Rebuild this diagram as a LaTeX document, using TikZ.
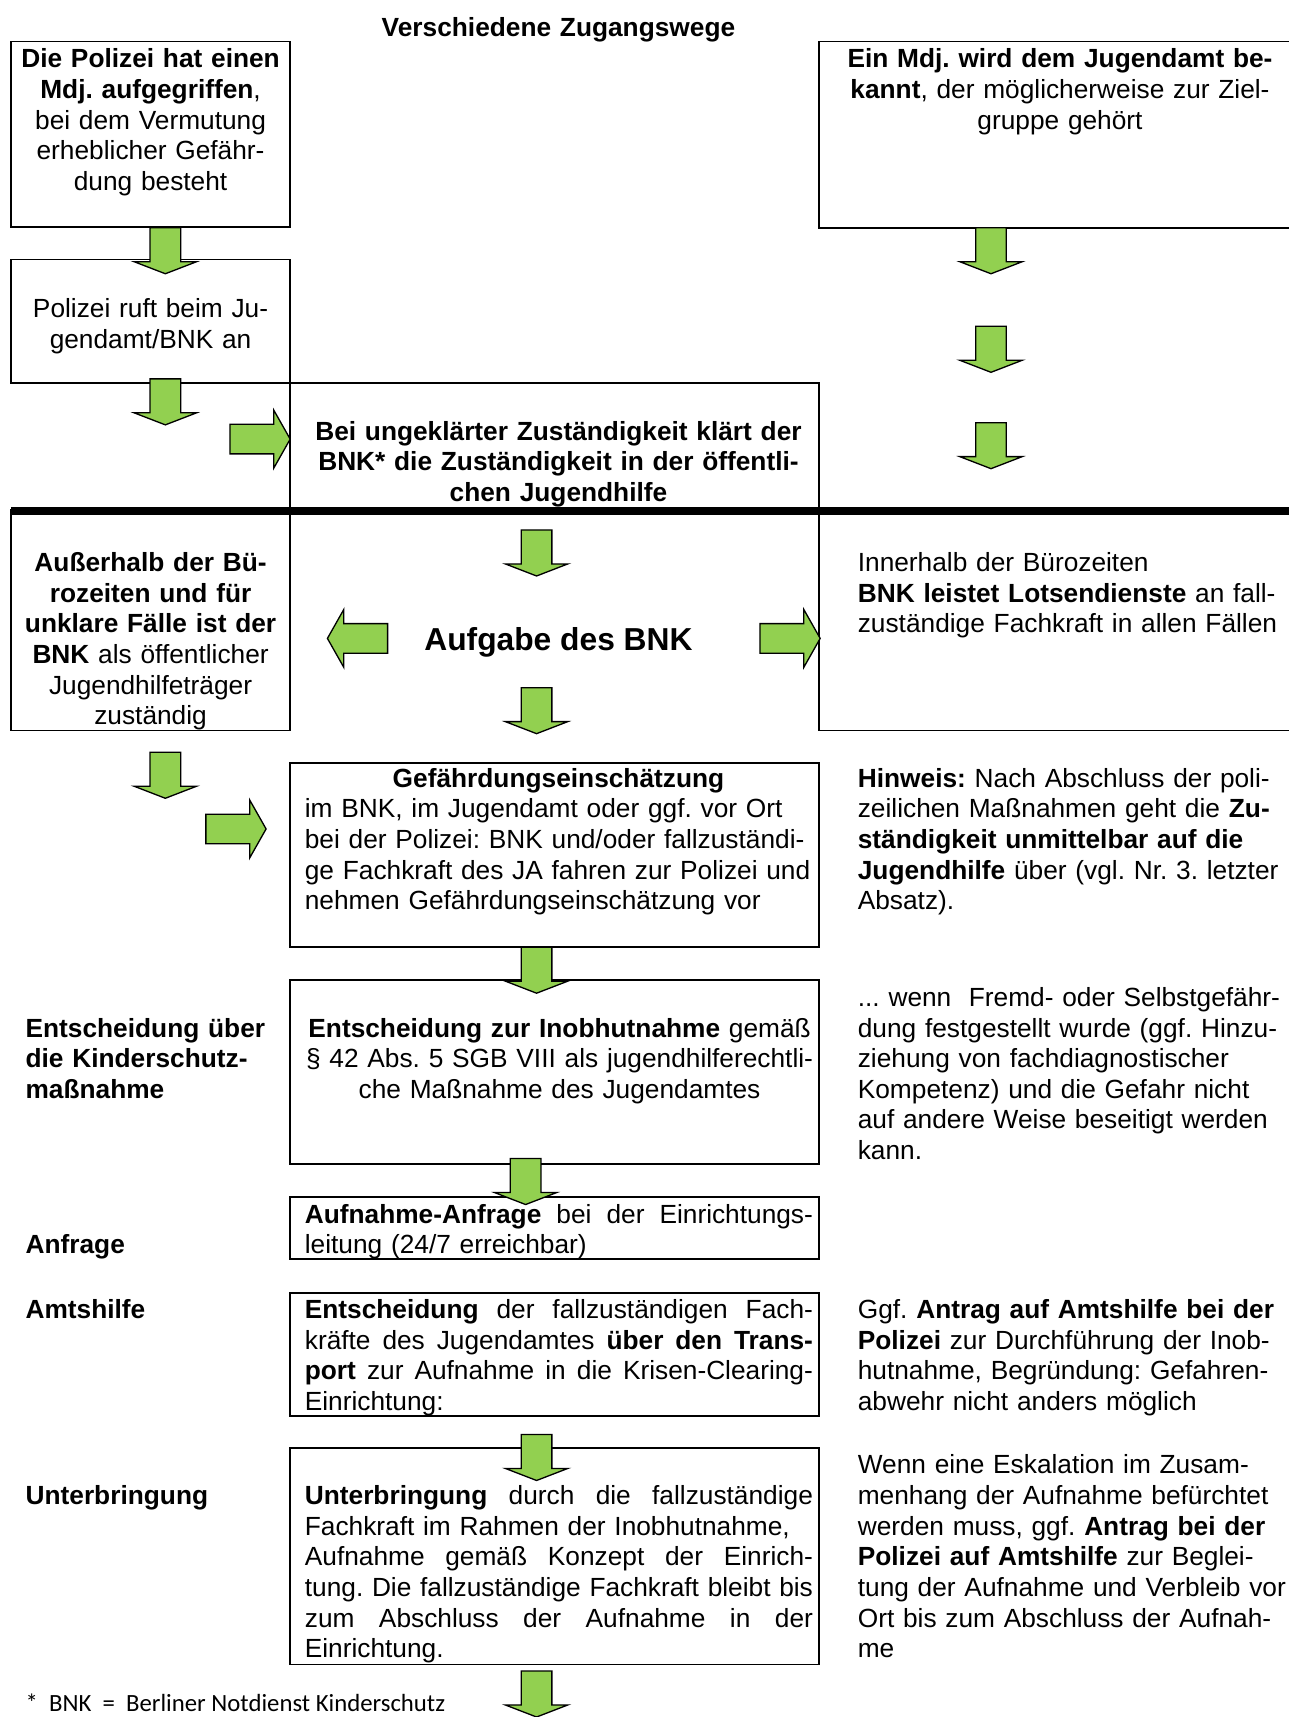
\documentclass[tikz,border=0pt]{standalone}
\usepackage{fontspec}
\setmainfont{Liberation Sans}
\newfontfamily\notefont{Carlito}
\usetikzlibrary{fit}
\definecolor{arrowgreen}{HTML}{92D050}
\frenchspacing
\tikzset{
  boxnode/.style={inner sep=0pt, draw=black, line width=0.8pt},
  boxline/.style={draw=black, line width=0.8pt},
  txt/.style={inner sep=0pt, font=\fontsize{12}{14}\selectfont\frenchspacing},
  ctxt/.style={txt, anchor=base, align=center, text width=#1},
  ltxt/.style={txt, anchor=base west, align=left, text width=#1},
  blockarrow/.style={draw=black, fill=arrowgreen, line width=0.6pt, line join=miter},
  downarrow/.pic={\draw[blockarrow] (-14,0) -- (14,0) -- (14,31) -- (28.5,31) -- (0,42) -- (-28.5,31) -- (-14,31) -- cycle;},
  rightarrow/.pic={\draw[blockarrow] (0,-13.5) -- (40,-13.5) -- (40,-26.5) -- (55,0) -- (40,26.5) -- (40,13.5) -- (0,13.5) -- cycle;},
  leftarrow/.pic={\draw[blockarrow] (0,0) -- (15,-26.5) -- (15,-13.5) -- (55,-13.5) -- (55,13.5) -- (15,13.5) -- (15,26.5) -- cycle;}
}
\newcommand{\jline}[1]{\makebox[232pt][s]{\spaceskip=0pt\xspaceskip=0pt\relax#1}}
\begin{document}
\begin{tikzpicture}[x=0.5pt,y=-0.5pt]
\useasboundingbox (0,0) rectangle (1177,1568);

% title
\node[ctxt=200pt] (title) at (510,33) {\textbf{Verschiedene Zugangswege}};

% boxes
\node[boxnode, fit={(10,38) (265,207)}] (boxA) {};
\node[boxnode, fit={(10,237) (265,350)}] (boxB) {};
\node[boxnode, fit={(265,350) (748,466)}] (boxD) {};
\node[boxnode, fit={(10,466) (265,667)}] (boxE) {};
\node[boxnode, fit={(265,697) (748,865)}] (boxG) {};
\node[boxnode, fit={(265,895) (748,1063)}] (boxH) {};
\node[boxnode, fit={(265,1093) (748,1150)}] (boxI) {};
\node[boxnode, fit={(265,1181) (748,1293)}] (boxJ) {};
\node[boxnode, fit={(265,1322) (748,1520)}] (boxK) {};
\draw[boxline] (1177,38) -- (748,38) -- (748,208) -- (1177,208);
\draw[boxline] (748,466) -- (748,667) -- (1177,667);
\draw[line width=3.5pt] (10,466.5) -- (1177,466.5);

% box texts
\node[ctxt=125pt] (tA) at (137.5,62) {\textbf{Die Polizei hat einen}\\\textbf{Mdj. aufgegriffen},\\bei dem Vermutung\\erheblicher Gefähr-\\dung besteht};
\node[ctxt=125pt] (tB) at (137.5,290) {Polizei ruft beim Ju-\\gendamt/BNK an};
\node[ctxt=210pt] (tC) at (968,62) {\textbf{Ein Mdj. wird dem Jugendamt be-}\\\textbf{kannt}, der möglicherweise zur Ziel-\\gruppe gehört};
\node[ctxt=240pt] (tD) at (510,402) {\textbf{Bei ungeklärter Zuständigkeit klärt der}\\\textbf{BNK* die Zuständigkeit in der öffentli-}\\\textbf{chen Jugendhilfe}};
\node[ctxt=125pt] (tE) at (137.5,522) {\textbf{Außerhalb der Bü-}\\\textbf{rozeiten und für}\\\textbf{unklare Fälle ist der}\\\textbf{BNK} als öffentlicher\\Jugendhilfeträger\\zuständig};
\node[txt, anchor=base, font=\fontsize{14.5}{17}\selectfont\bfseries] (aufgabe) at (510,594) {Aufgabe des BNK};
\node[ltxt=205pt] (tF) at (783,522) {Innerhalb der Bürozeiten\\\textbf{BNK leistet Lotsendienste} an fall-\\zuständige Fachkraft in allen Fällen};

\node[ctxt=240pt] (tGhead) at (510,719) {\textbf{Gefährdungseinschätzung}};
\node[ltxt=235pt] (tG) at (278,747) {im BNK, im Jugendamt oder ggf. vor Ort\\bei der Polizei: BNK und/oder fallzuständi-\\ge Fachkraft des JA fahren zur Polizei und\\nehmen Gefährdungseinschätzung vor};
\node[ltxt=205pt] (hinweis) at (783,719) {\textbf{Hinweis:} Nach Abschluss der poli-\\zeilichen Maßnahmen geht die \textbf{Zu-}\\\textbf{ständigkeit unmittelbar auf die}\\\textbf{Jugendhilfe} über (vgl. Nr. 3. letzter\\Absatz).};

\node[ltxt=120pt] (lEnt) at (23,947) {\textbf{Entscheidung über}\\\textbf{die Kinderschutz-}\\\textbf{maßnahme}};
\node[ctxt=240pt] (tH) at (511,947) {\textbf{Entscheidung zur Inobhutnahme} gemäß\\§ 42 Abs. 5 SGB VIII als jugendhilferechtli-\\che Maßnahme des Jugendamtes};
\node[ltxt=205pt] (wenn) at (783,919) {... wenn\ \ Fremd- oder Selbstgefähr-\\dung festgestellt wurde (ggf. Hinzu-\\ziehung von fachdiagnostischer\\Kompetenz) und die Gefahr nicht\\auf andere Weise beseitigt werden\\kann.};

\node[ltxt=120pt] (lAnf) at (23,1145) {\textbf{Anfrage}};
\node[ltxt=232pt] (tI) at (278,1117) {\jline{\textbf{Aufnahme-Anfrage} bei der Einrichtungs-}\\leitung (24/7 erreichbar)};

\node[ltxt=120pt] (lAmt) at (23,1204) {\textbf{Amtshilfe}};
\node[ltxt=232pt] (tJ) at (278,1204) {\jline{\textbf{Entscheidung} der fallzuständigen Fach-}\\\jline{kräfte des Jugendamtes \textbf{über den Trans-}}\\\jline{\textbf{port} zur Aufnahme in die Krisen-Clearing-}\\Einrichtung:};
\node[ltxt=205pt] (ggf) at (783,1204) {Ggf. \textbf{Antrag auf Amtshilfe bei der}\\\textbf{Polizei} zur Durchführung der Inob-\\hutnahme, Begründung: Gefahren-\\abwehr nicht anders möglich};

\node[ltxt=120pt] (lUnt) at (23,1374) {\textbf{Unterbringung}};
\node[ltxt=232pt] (tK) at (278,1374) {\jline{\textbf{Unterbringung} durch die fallzuständige}\\Fachkraft im Rahmen der Inobhutnahme,\\\jline{Aufnahme gemäß Konzept der Einrich-}\\\jline{tung. Die fallzuständige Fachkraft bleibt bis}\\\jline{zum Abschluss der Aufnahme in der}\\Einrichtung.};
\node[ltxt=205pt] (eskal) at (783,1346) {Wenn eine Eskalation im Zusam-\\menhang der Aufnahme befürchtet\\werden muss, ggf. \textbf{Antrag bei der}\\\textbf{Polizei auf Amtshilfe} zur Beglei-\\tung der Aufnahme und Verbleib vor\\Ort bis zum Abschluss der Aufnah-\\me};

\node[txt, anchor=base west, font=\notefont\fontsize{11.3}{13}\selectfont] (fn) at (23,1563) {*\ \ BNK\ \ =\ \ Berliner\ Notdienst\ Kinderschutz};

% block arrows
\pic at (151,208) {downarrow};
\pic at (151,346) {downarrow};
\pic at (905,208) {downarrow};
\pic at (905,298) {downarrow};
\pic at (905,386) {downarrow};
\pic at (490,484) {downarrow};
\pic at (490,628) {downarrow};
\pic at (151,687) {downarrow};
\pic at (490,865) {downarrow};
\pic at (480,1058) {downarrow};
\pic at (490,1310) {downarrow};
\pic at (490,1526) {downarrow};
\pic at (210,401) {rightarrow};
\pic at (299,583) {leftarrow};
\pic at (694,583) {rightarrow};
\pic at (188,757) {rightarrow};
\end{tikzpicture}
\end{document}
